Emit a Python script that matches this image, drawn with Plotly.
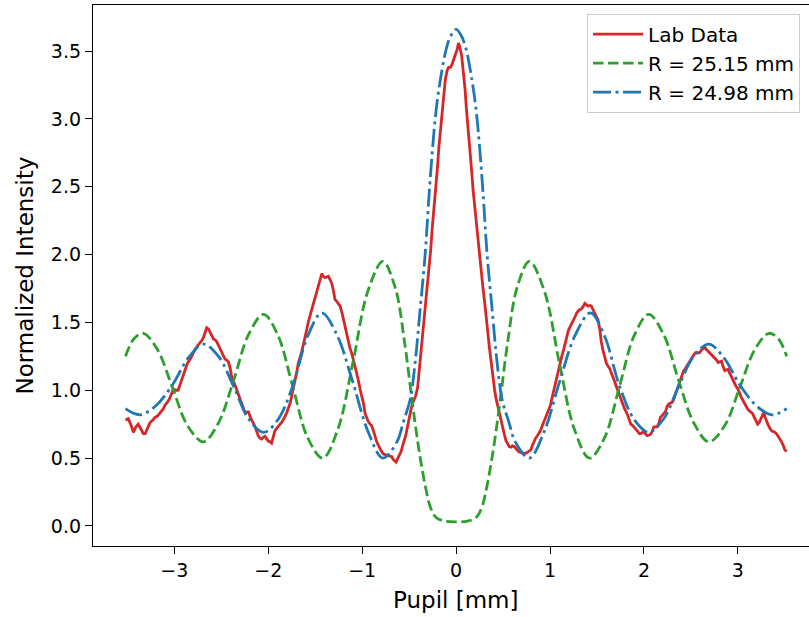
import plotly.graph_objects as go

# ---------------- data ----------------
lab_x = [-3.52, -3.49, -3.46, -3.435, -3.41, -3.385, -3.36, -3.33, -3.31, -3.285, -3.26, -3.23, -3.205, -3.18,
         -3.15, -3.12, -3.10, -3.075, -3.05, -3.03, -3.01, -2.985, -2.96, -2.94, -2.92, -2.90, -2.885, -2.86,
         -2.83, -2.805, -2.78, -2.75, -2.725, -2.705, -2.69, -2.67, -2.655, -2.635, -2.62, -2.60, -2.585, -2.565,
         -2.55, -2.53, -2.51, -2.49, -2.475, -2.46, -2.44, -2.425, -2.405, -2.39, -2.36, -2.335, -2.31, -2.285,
         -2.265, -2.245, -2.225, -2.21, -2.19, -2.175, -2.16, -2.14, -2.12, -2.105, -2.085, -2.07, -2.05, -2.035,
         -2.015, -2.00, -1.98, -1.965, -1.945, -1.93, -1.91, -1.89, -1.875, -1.855, -1.84, -1.82, -1.80, -1.785,
         -1.765, -1.75, -1.73, -1.715, -1.695, -1.68, -1.66, -1.645, -1.625, -1.61, -1.59, -1.575, -1.555, -1.54,
         -1.52, -1.50, -1.485, -1.465, -1.45, -1.43, -1.415, -1.395, -1.38, -1.36, -1.345, -1.325, -1.305, -1.29,
         -1.265, -1.235, -1.215, -1.20, -1.18, -1.165, -1.145, -1.13, -1.11, -1.095, -1.075, -1.06, -1.04, -1.02,
         -1.005, -0.985, -0.97, -0.95, -0.935, -0.915, -0.90, -0.88, -0.86, -0.845, -0.825, -0.81, -0.79, -0.775,
         -0.755, -0.74, -0.72, -0.705, -0.685, -0.67, -0.655, -0.64, -0.62, -0.605, -0.585, -0.57, -0.55, -0.535,
         -0.515, -0.50, -0.48, -0.465, -0.445, -0.43, -0.41, -0.395, -0.375, -0.36, -0.34, -0.325, -0.305, -0.29,
         -0.27, -0.255, -0.235, -0.22, -0.20, -0.185, -0.165, -0.15, -0.13, -0.115, -0.095, -0.08, -0.06, -0.045,
         -0.025, -0.01, 0.01, 0.025, 0.04, 0.06, 0.075, 0.095, 0.11, 0.13, 0.145, 0.165, 0.18, 0.20, 0.215, 0.235,
         0.25, 0.27, 0.285, 0.305, 0.32, 0.34, 0.355, 0.375, 0.39, 0.41, 0.425, 0.445, 0.46, 0.48, 0.495, 0.515,
         0.53, 0.55, 0.565, 0.585, 0.60, 0.62, 0.635, 0.655, 0.67, 0.69, 0.705, 0.725, 0.74, 0.76, 0.775, 0.795,
         0.81, 0.83, 0.845, 0.865, 0.88, 0.90, 0.915, 0.935, 0.95, 0.97, 0.985, 1.005, 1.02, 1.04, 1.055, 1.075,
         1.09, 1.11, 1.125, 1.145, 1.16, 1.18, 1.195, 1.215, 1.23, 1.25, 1.265, 1.285, 1.30, 1.32, 1.335, 1.355,
         1.37, 1.39, 1.405, 1.425, 1.44, 1.46, 1.475, 1.495, 1.51, 1.53, 1.545, 1.565, 1.58, 1.60, 1.615, 1.635,
         1.65, 1.67, 1.685, 1.705, 1.72, 1.74, 1.755, 1.775, 1.79, 1.81, 1.825, 1.845, 1.86, 1.88, 1.895, 1.915,
         1.93, 1.95, 1.965, 1.985, 2.00, 2.02, 2.035, 2.055, 2.07, 2.09, 2.105, 2.125, 2.14, 2.16, 2.175, 2.195,
         2.21, 2.23, 2.245, 2.265, 2.28, 2.30, 2.315, 2.335, 2.35, 2.37, 2.385, 2.405, 2.42, 2.44, 2.455, 2.475,
         2.49, 2.51, 2.525, 2.545, 2.56, 2.58, 2.595, 2.615, 2.63, 2.65, 2.665, 2.685, 2.70, 2.72, 2.735, 2.755,
         2.77, 2.79, 2.805, 2.825, 2.84, 2.86, 2.875, 2.895, 2.91, 2.93, 2.945, 2.965, 2.98, 3.00, 3.015, 3.035,
         3.05, 3.07, 3.085, 3.105, 3.12, 3.14, 3.155, 3.175, 3.19, 3.21, 3.225, 3.245, 3.26, 3.275, 3.29, 3.31,
         3.325, 3.345, 3.36, 3.38, 3.395, 3.415, 3.43, 3.45, 3.465, 3.485, 3.50, 3.52]
lab_y = [0.78, 0.79, 0.74, 0.69, 0.73, 0.75, 0.72, 0.68, 0.68, 0.72, 0.76, 0.78, 0.80, 0.81,
         0.835, 0.86, 0.89, 0.91, 0.94, 0.98, 1.01, 1.00, 1.00, 1.04, 1.08, 1.13, 1.16, 1.20,
         1.23, 1.27, 1.30, 1.33, 1.35, 1.37, 1.39, 1.43, 1.46, 1.45, 1.43, 1.40, 1.38, 1.37,
         1.36, 1.33, 1.30, 1.27, 1.25, 1.23, 1.22, 1.21, 1.16, 1.10, 1.05, 1.00, 0.95, 0.90,
         0.86, 0.83, 0.84, 0.84, 0.80, 0.78, 0.76, 0.73, 0.69, 0.66, 0.645, 0.64, 0.655, 0.66,
         0.64, 0.625, 0.62, 0.61, 0.66, 0.70, 0.72, 0.74, 0.75, 0.765, 0.79, 0.81, 0.84, 0.87,
         0.91, 0.96, 1.02, 1.08, 1.14, 1.20, 1.24, 1.28, 1.34, 1.40, 1.45, 1.50, 1.55, 1.59,
         1.64, 1.69, 1.74, 1.79, 1.83, 1.86, 1.84, 1.83, 1.835, 1.84, 1.82, 1.79, 1.73, 1.67,
         1.65, 1.62, 1.57, 1.52, 1.46, 1.40, 1.35, 1.31, 1.27, 1.23, 1.18, 1.13, 1.07, 1.00,
         0.96, 0.90, 0.83, 0.79, 0.77, 0.75, 0.74, 0.70, 0.65, 0.62, 0.59, 0.565, 0.545, 0.53,
         0.525, 0.52, 0.52, 0.515, 0.51, 0.49, 0.48, 0.47, 0.50, 0.52, 0.55, 0.59, 0.63, 0.67,
         0.74, 0.80, 0.86, 0.90, 0.93, 0.96, 1.02, 1.12, 1.27, 1.39, 1.53, 1.64, 1.78, 1.90,
         2.04, 2.19, 2.33, 2.47, 2.63, 2.78, 2.94, 3.07, 3.19, 3.29, 3.36, 3.38, 3.38, 3.40,
         3.44, 3.47, 3.51, 3.56, 3.53, 3.46, 3.36, 3.22, 3.07, 2.92, 2.77, 2.62, 2.48, 2.34, 2.21, 2.08,
         1.97, 1.86, 1.76, 1.64, 1.53, 1.41, 1.31, 1.20, 1.10, 1.00, 0.94, 0.88, 0.82, 0.76, 0.71, 0.67,
         0.63, 0.60, 0.585, 0.58, 0.59, 0.585, 0.57, 0.555, 0.545, 0.54, 0.54, 0.535, 0.535, 0.545, 0.55, 0.56,
         0.59, 0.625, 0.645, 0.665, 0.68, 0.705, 0.735, 0.77, 0.80, 0.84, 0.86, 0.89, 0.94, 1.00, 1.05, 1.11,
         1.16, 1.21, 1.25, 1.30, 1.34, 1.38, 1.44, 1.47, 1.49, 1.51, 1.54, 1.57, 1.585, 1.595, 1.60, 1.62,
         1.64, 1.63, 1.62, 1.625, 1.62, 1.59, 1.57, 1.55, 1.52, 1.45, 1.36, 1.29, 1.24, 1.20, 1.18, 1.16,
         1.13, 1.10, 1.07, 1.03, 1.00, 0.96, 0.93, 0.90, 0.87, 0.84, 0.82, 0.78, 0.75, 0.74, 0.73, 0.715,
         0.70, 0.68, 0.68, 0.69, 0.69, 0.675, 0.665, 0.67, 0.675, 0.70, 0.73, 0.73, 0.73, 0.76, 0.80, 0.815,
         0.83, 0.845, 0.88, 0.90, 0.905, 0.91, 0.93, 0.97, 1.01, 1.05, 1.07, 1.11, 1.14, 1.16, 1.18, 1.20,
         1.215, 1.24, 1.255, 1.275, 1.28, 1.275, 1.28, 1.30, 1.305, 1.315, 1.30, 1.285, 1.275, 1.265, 1.25, 1.24,
         1.225, 1.205, 1.21, 1.215, 1.18, 1.145, 1.15, 1.155, 1.13, 1.10, 1.08, 1.05, 1.03, 1.01, 0.98, 0.95,
         0.93, 0.90, 0.88, 0.86, 0.85, 0.84, 0.83, 0.80, 0.775, 0.75, 0.76, 0.79, 0.82, 0.835, 0.80, 0.76,
         0.74, 0.715, 0.70, 0.695, 0.69, 0.675, 0.66, 0.64, 0.62, 0.59, 0.56, 0.55]

r2515_x = [-3.52, -3.43, -3.33, -3.18, -3.02, -2.86, -2.69, -2.53, -2.37, -2.21, -2.05, -1.90, -1.74, -1.58,
           -1.42, -1.26, -1.10, -0.94, -0.78, -0.65, -0.55, -0.47, -0.40, -0.33, -0.27, -0.21, -0.12, 0.0,
           0.12, 0.21, 0.27, 0.33, 0.40, 0.47, 0.55, 0.65, 0.78, 0.94, 1.10, 1.26, 1.42, 1.58, 1.74, 1.90,
           2.05, 2.21, 2.37, 2.53, 2.69, 2.86, 3.02, 3.18, 3.33, 3.43, 3.52]
r2515_y = [1.25, 1.38, 1.42, 1.30, 1.02, 0.74, 0.62, 0.76, 1.07, 1.41, 1.56, 1.41, 1.03, 0.65,
           0.50, 0.71, 1.20, 1.73, 1.95, 1.76, 1.36, 0.93, 0.58, 0.30, 0.13, 0.06, 0.035, 0.03,
           0.035, 0.06, 0.13, 0.30, 0.58, 0.93, 1.36, 1.76, 1.95, 1.73, 1.20, 0.71, 0.50, 0.65, 1.03, 1.41,
           1.56, 1.41, 1.07, 0.76, 0.62, 0.74, 1.02, 1.30, 1.42, 1.38, 1.25]

r2498_x = [-3.52, -3.43, -3.35, -3.19, -3.02, -2.85, -2.69, -2.53, -2.37, -2.21, -2.05, -1.90, -1.74, -1.58,
           -1.43, -1.27, -1.10, -0.94, -0.78, -0.63, -0.56, -0.49, -0.44, -0.38, -0.33, -0.28, -0.22, -0.17,
           -0.10, -0.05, 0.0, 0.05, 0.10, 0.17, 0.22, 0.28, 0.33, 0.38, 0.44, 0.49, 0.56, 0.63, 0.78, 0.94,
           1.10, 1.27, 1.43, 1.58, 1.74, 1.90, 2.05, 2.21, 2.37, 2.53, 2.69, 2.85, 3.02, 3.19, 3.35, 3.43, 3.52]
r2498_y = [0.865, 0.83, 0.82, 0.89, 1.04, 1.24, 1.34, 1.25, 1.03, 0.79, 0.69, 0.78, 1.03, 1.40,
           1.57, 1.41, 1.06, 0.70, 0.50, 0.62, 0.77, 0.93, 1.18, 1.62, 2.00, 2.52, 3.02, 3.28,
           3.53, 3.62, 3.66, 3.62, 3.53, 3.28, 3.02, 2.52, 2.00, 1.62, 1.18, 0.93, 0.77, 0.62, 0.50, 0.70,
           1.06, 1.41, 1.57, 1.40, 1.03, 0.78, 0.69, 0.79, 1.03, 1.25, 1.34, 1.24, 1.04, 0.89, 0.82, 0.83, 0.865]

x_tick_vals = [-3, -2, -1, 0, 1, 2, 3]
x_tick_text = ["\u22123", "\u22122", "\u22121", "0", "1", "2", "3"]
y_tick_vals = [0.0, 0.5, 1.0, 1.5, 2.0, 2.5, 3.0, 3.5]
y_tick_text = ["0.0", "0.5", "1.0", "1.5", "2.0", "2.5", "3.0", "3.5"]

FONT = "DejaVu Sans"
LW = 2.8

fig = go.Figure()
fig.add_trace(go.Scatter(x=lab_x, y=lab_y, mode="lines", name="Lab Data",
                         line=dict(color="#d62728", width=LW)))
fig.add_trace(go.Scatter(x=r2515_x, y=r2515_y, mode="lines", name="R = 25.15 mm",
                         line=dict(color="#2ca02c", width=LW, dash="10.5px,4.5px",
                                   shape="spline", smoothing=1.0)))
fig.add_trace(go.Scatter(x=r2498_x, y=r2498_y, mode="lines", name="R = 24.98 mm",
                         line=dict(color="#1f77b4", width=LW, dash="18px,4.5px,3px,4.5px",
                                   shape="spline", smoothing=1.0)))

axis_common = dict(showgrid=False, zeroline=False, showline=True, linecolor="black", linewidth=1.3,
                   ticks="outside", ticklen=7, tickwidth=1.3, tickcolor="black",
                   tickfont=dict(family=FONT, size=19, color="black"))

fig.update_xaxes(range=[-3.866, 3.757], tickvals=x_tick_vals, ticktext=x_tick_text, mirror=True,
                 **axis_common)
fig.update_yaxes(range=[-0.148, 3.84], tickvals=y_tick_vals, ticktext=y_tick_text, mirror=False,
                 **axis_common)

fig.update_layout(
    width=809, height=617,
    margin=dict(l=93, r=0, t=5, b=71),
    plot_bgcolor="white", paper_bgcolor="white",
    font=dict(family=FONT, color="black"),
    showlegend=True,
    legend=dict(x=0.69, y=0.984, xanchor="left", yanchor="top", itemwidth=50,
                bgcolor="rgba(255,255,255,0.8)", bordercolor="#cccccc", borderwidth=1,
                font=dict(family=FONT, size=20, color="black"), tracegroupgap=0),
    annotations=[
        dict(text="Pupil [mm]", xref="x", yref="paper", x=0, y=-0.1, xanchor="center", yanchor="middle",
             showarrow=False, font=dict(family=FONT, size=23, color="black")),
        dict(text="Normalized Intensity", xref="paper", yref="paper", x=-0.095, y=0.5, textangle=-90,
             xanchor="center", yanchor="middle", showarrow=False,
             font=dict(family=FONT, size=23, color="black")),
    ],
)

fig.write_html("out.html")
